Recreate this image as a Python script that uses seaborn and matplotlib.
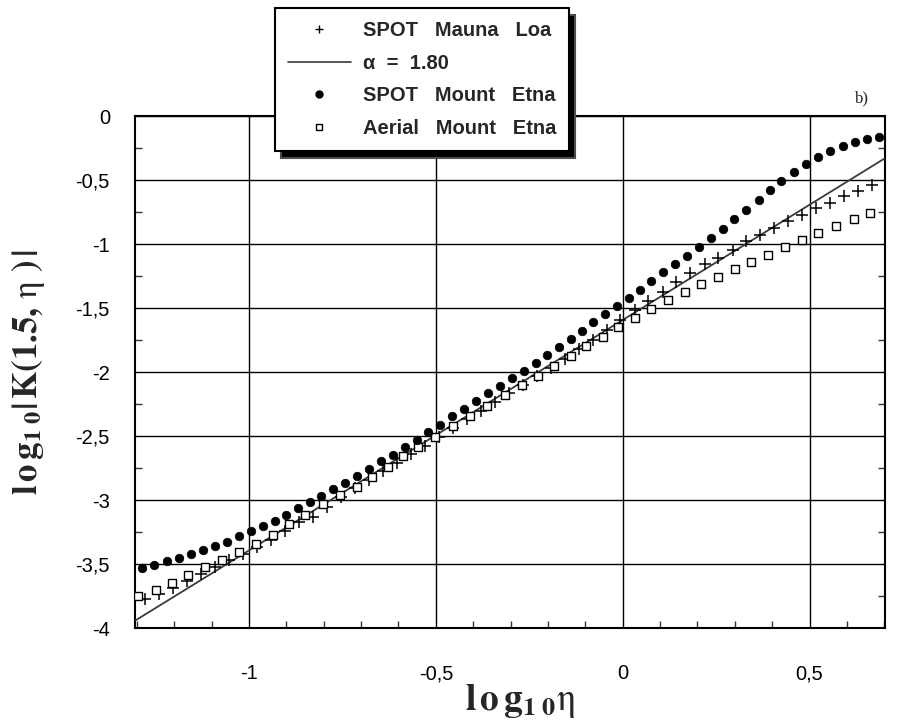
import matplotlib
matplotlib.use("Agg")
import matplotlib.pyplot as plt
import seaborn as sns
from matplotlib.lines import Line2D
from matplotlib.ticker import FixedLocator, FixedFormatter, MultipleLocator

# ---------------- data ----------------
etna_spot_x = [-1.285, -1.253, -1.220, -1.188, -1.156, -1.123, -1.091, -1.059, -1.028, -0.995,
               -0.963, -0.930, -0.901, -0.870, -0.838, -0.806, -0.775, -0.742, -0.710, -0.678,
               -0.646, -0.615, -0.583, -0.551, -0.520, -0.488, -0.456, -0.424, -0.393, -0.361,
               -0.328, -0.297, -0.264, -0.233, -0.203, -0.171, -0.139, -0.109, -0.079, -0.048,
               -0.016, 0.016, 0.046, 0.077, 0.108, 0.140, 0.171, 0.203, 0.237, 0.269,
               0.299, 0.330, 0.364, 0.395, 0.424, 0.459, 0.491, 0.522, 0.556, 0.590,
               0.622, 0.653, 0.686]
etna_spot_y = [-3.529, -3.508, -3.479, -3.455, -3.424, -3.393, -3.359, -3.326, -3.284, -3.242,
               -3.203, -3.162, -3.115, -3.063, -3.018, -2.966, -2.914, -2.870, -2.812, -2.757,
               -2.697, -2.645, -2.588, -2.530, -2.470, -2.412, -2.347, -2.287, -2.230, -2.165,
               -2.110, -2.050, -1.991, -1.929, -1.869, -1.804, -1.739, -1.678, -1.613, -1.548,
               -1.485, -1.420, -1.358, -1.290, -1.219, -1.154, -1.090, -1.020, -0.956, -0.884,
               -0.806, -0.733, -0.655, -0.581, -0.505, -0.438, -0.376, -0.319, -0.273, -0.236,
               -0.205, -0.179, -0.164]

mauna_x = [-1.278, -1.241, -1.203, -1.166, -1.128, -1.091, -1.054, -1.016, -0.979, -0.941,
           -0.904, -0.866, -0.829, -0.791, -0.754, -0.716, -0.679, -0.642, -0.604, -0.567,
           -0.529, -0.492, -0.454, -0.417, -0.380, -0.342, -0.305, -0.267, -0.230, -0.193,
           -0.155, -0.118, -0.080, -0.043, -0.006, 0.032, 0.069, 0.107, 0.144, 0.181,
           0.219, 0.256, 0.294, 0.331, 0.368, 0.406, 0.443, 0.481, 0.518, 0.555,
           0.593, 0.630, 0.667]
mauna_y = [-3.770, -3.735, -3.690, -3.630, -3.580, -3.520, -3.470, -3.420, -3.370, -3.310,
           -3.245, -3.175, -3.130, -3.055, -2.975, -2.905, -2.840, -2.775, -2.710, -2.640,
           -2.575, -2.505, -2.440, -2.370, -2.305, -2.235, -2.165, -2.100, -2.033, -1.966,
           -1.895, -1.822, -1.751, -1.673, -1.590, -1.517, -1.446, -1.373, -1.295, -1.230,
           -1.160, -1.111, -1.047, -0.979, -0.930, -0.873, -0.818, -0.775, -0.717, -0.676,
           -0.624, -0.585, -0.542]

aerial_x = [-1.296, -1.250, -1.205, -1.162, -1.118, -1.071, -1.027, -0.981, -0.937, -0.894,
            -0.849, -0.803, -0.757, -0.710, -0.670, -0.628, -0.587, -0.547, -0.501, -0.455,
            -0.409, -0.363, -0.316, -0.270, -0.227, -0.184, -0.139, -0.097, -0.052, -0.012,
            0.034, 0.077, 0.120, 0.166, 0.210, 0.255, 0.300, 0.344, 0.390, 0.435,
            0.481, 0.524, 0.571, 0.618, 0.663]
aerial_y = [-3.748, -3.701, -3.651, -3.586, -3.526, -3.470, -3.410, -3.345, -3.270, -3.190,
            -3.120, -3.030, -2.962, -2.897, -2.820, -2.745, -2.660, -2.585, -2.505, -2.425,
            -2.340, -2.262, -2.182, -2.099, -2.031, -1.952, -1.874, -1.796, -1.723, -1.650,
            -1.582, -1.509, -1.441, -1.378, -1.312, -1.261, -1.196, -1.142, -1.085, -1.026,
            -0.966, -0.917, -0.863, -0.806, -0.754]

fit_x = [-1.305, 0.702]
fit_y = [-3.943, -0.330]

x_ticks = [-1.0, -0.5, 0.0, 0.5]
x_tick_labels = ["-1", "-0,5", "0", "0,5"]
y_ticks = [0.0, -0.5, -1.0, -1.5, -2.0, -2.5, -3.0, -3.5, -4.0]
y_tick_labels = ["0", "-0,5", "-1", "-1,5", "-2", "-2,5", "-3", "-3,5", "-4"]

legend_labels = ["SPOT   Mauna   Loa", "\u03b1  =  1.80", "SPOT   Mount   Etna",
                 "Aerial   Mount   Etna"]

# ---------------- style ----------------
sns.set_theme(style="white")
plt.rcParams["font.family"] = ["Liberation Sans", "DejaVu Sans"]
plt.rcParams["mathtext.fontset"] = "stix"

W, H = 903, 727
fig = plt.figure(figsize=(W / 100, H / 100), dpi=100)
ax = fig.add_axes([135 / W, 1 - 628 / H, 750 / W, 512 / H])

# ---------------- marks ----------------
sns.lineplot(x=fit_x, y=fit_y, ax=ax, color="#3a3a3a", linewidth=1.3, zorder=3)
sns.scatterplot(x=mauna_x, y=mauna_y, ax=ax, marker="+", color="black", s=70,
                linewidth=1.1, zorder=4)
sns.scatterplot(x=etna_spot_x, y=etna_spot_y, ax=ax, marker="o", color="black",
                edgecolor="black", s=38, linewidth=0.5, zorder=5)
sns.scatterplot(x=aerial_x, y=aerial_y, ax=ax, marker="s", color="white",
                edgecolor="black", s=38, linewidth=1.0, zorder=4)

# ---------------- axes ----------------
ax.set_xlim(-1.305, 0.702)
ax.set_ylim(-4.0, 0.0)
ax.xaxis.set_major_locator(FixedLocator(x_ticks))
ax.xaxis.set_major_formatter(FixedFormatter(x_tick_labels))
ax.yaxis.set_major_locator(FixedLocator(y_ticks))
ax.yaxis.set_major_formatter(FixedFormatter(y_tick_labels))
ax.xaxis.set_minor_locator(MultipleLocator(0.1))
ax.yaxis.set_minor_locator(MultipleLocator(0.25))
ax.tick_params(which="major", length=0, labelsize=14.5, colors="black")
ax.tick_params(axis="x", which="major", pad=26)
ax.tick_params(axis="y", which="major", pad=18)
ax.tick_params(which="minor", direction="in", length=5, width=1, color="#333333",
               bottom=True, left=True, right=True, top=False)
ax.grid(True, which="major", color="black", linewidth=1.0)
for sp in ax.spines.values():
    sp.set_color("black")
    sp.set_linewidth(1.5)
ax.set_xlabel("")
ax.set_ylabel("")

fig.text(29 / W, 1 - 372 / H,
         r"$\mathbf{l\,o\,g}_{\mathbf{1\,\,0}}\mathbf{|\,K(1.5,}\,\mathrm{\eta}\,\,\mathbf{)\,|}$",
         rotation=90, ha="center", va="center", fontsize=25)
fig.text(520 / W, 1 - 701 / H, r"$\mathbf{l\,o\,g}_{\mathbf{1\,\,0}}\mathrm{\eta}$",
         ha="center", va="center", fontsize=27)
fig.text(862 / W, 1 - 98 / H, "b)", ha="center", va="center", fontsize=12,
         family=["Liberation Serif", "DejaVu Serif"])

# ---------------- legend ----------------
handles = [
    Line2D([], [], ls="none", marker="+", color="black", ms=6, mew=1.0),
    Line2D([], [], color="#3a3a3a", lw=1.2),
    Line2D([], [], ls="none", marker="o", color="black", ms=5),
    Line2D([], [], ls="none", marker="s", mfc="white", mec="black", ms=4.5, mew=1.0),
]
leg = fig.legend(handles, legend_labels, loc="upper left",
                 bbox_to_anchor=(275 / W, 1 - 8 / H), bbox_transform=fig.transFigure,
                 prop={"weight": "bold", "size": 14.5}, frameon=True, fancybox=False,
                 edgecolor="black", facecolor="white", framealpha=1,
                 handlelength=3.1, handletextpad=0.6, labelspacing=0.68,
                 borderpad=0.65, borderaxespad=0,
                 shadow={"ox": 4, "oy": -5, "facecolor": "black", "alpha": 1})
leg.get_frame().set_linewidth(1.5)

fig.savefig("out.png", dpi=100)
